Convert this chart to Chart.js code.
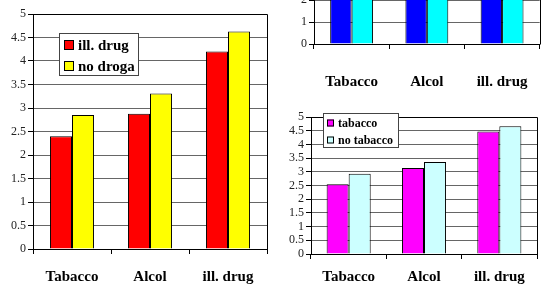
<!DOCTYPE html>
<html>
<head>
<meta charset="utf-8">
<script src="https://cdn.jsdelivr.net/npm/chart.js@4.4.1/dist/chart.umd.min.js"></script>
<style>
  html, body { margin: 0; padding: 0; background: #fff; overflow: hidden; }
  body { width: 552px; height: 287px; position: relative; }
  .box { position: absolute; }
</style>
</head>
<body>
<div class="box" style="left:0;top:0;width:280px;height:287px"><canvas id="graf1"></canvas></div>
<div class="box" style="left:280px;top:-80px;width:272px;height:180px"><canvas id="graf2"></canvas></div>
<div class="box" style="left:280px;top:100px;width:272px;height:187px"><canvas id="graf3"></canvas></div>
<script>
const categorias = ['Tabacco', 'Alcol', 'ill. drug']

// grafico grande (sinistra)
const illDrug = [2.40, 2.88, 4.20]
const noDroga = [2.85, 3.31, 4.63]

// grafico in alto a destra (si vede solo la parte bassa)
const alcolSi = [3.9, 4.2, 4.6]
const alcolNo = [4.1, 4.4, 4.8]

// grafico in basso a destra
const tabaccoSi = [2.55, 3.14, 4.47]
const tabaccoNo = [2.93, 3.36, 4.66]

const serif = "'Liberation Serif', 'Times New Roman', serif"

// cornice dell'area del grafico
const frame = {
  id: 'frame',
  afterDatasetsDraw(chart) {
    const a = chart.chartArea
    const c = chart.ctx
    c.save()
    c.strokeStyle = '#000'
    c.lineWidth = 1
    c.beginPath()
    c.moveTo(Math.round(a.left) + 0.5, Math.round(a.top) + 0.5)
    c.lineTo(Math.round(a.right) + 0.5, Math.round(a.top) + 0.5)
    c.lineTo(Math.round(a.right) + 0.5, Math.round(a.bottom) + 0.5)
    c.stroke()
    c.restore()
  }
}

// legenda disegnata dentro il grafico
const boxLegend = {
  id: 'boxLegend',
  afterDraw(chart, args, opts) {
    if (!opts.show) return
    const c = chart.ctx
    c.save()
    c.fillStyle = '#fff'
    c.fillRect(opts.x, opts.y, opts.w, opts.h)
    c.strokeStyle = '#444'
    c.lineWidth = 1
    c.strokeRect(opts.x + 0.5, opts.y + 0.5, opts.w, opts.h)
    c.font = 'bold ' + opts.size + 'px ' + serif
    c.textBaseline = 'middle'
    chart.data.datasets.forEach((ds, i) => {
      const cy = opts.y + opts.first + i * opts.gap
      c.fillStyle = ds.backgroundColor
      c.fillRect(opts.x + opts.sx, cy - opts.sq / 2, opts.sq, opts.sq)
      c.strokeStyle = '#000'
      c.strokeRect(opts.x + opts.sx + 0.5, cy - opts.sq / 2 + 0.5, opts.sq - 1, opts.sq - 1)
      c.fillStyle = '#000'
      c.fillText(ds.label, opts.x + opts.sx + opts.sq + 4, cy + 1)
    })
    c.restore()
  }
}

function makeChart(id, sets, o) {
  return new Chart(document.getElementById(id), {
    type: 'bar',
    data: {
      labels: categorias,
      datasets: sets.map(s => ({
        label: s.label,
        data: s.data,
        backgroundColor: s.color,
        borderColor: '#000',
        borderWidth: 1,
        borderSkipped: 'bottom',
        categoryPercentage: o.catPct,
        barPercentage: 1
      }))
    },
    options: {
      responsive: true,
      maintainAspectRatio: false,
      animation: false,
      layout: { padding: { left: 0, right: o.padRight, top: o.padTop, bottom: 0 } },
      scales: {
        x: {
          afterFit: s => { s.height = o.xHeight },
          grid: { offset: true, drawOnChartArea: false, tickLength: 5, color: '#000' },
          border: { color: '#000' },
          ticks: { color: '#000', padding: o.xPad, font: { family: serif, size: 15, weight: 'bold' } }
        },
        y: {
          min: 0,
          max: 5,
          afterFit: s => { s.width = o.yWidth },
          grid: { color: '#666', tickLength: 5, tickColor: '#000' },
          border: { color: '#000' },
          ticks: {
            stepSize: o.step,
            autoSkip: false,
            color: '#222',
            padding: 2,
            font: { family: serif, size: 12 },
            callback: v => String(Math.round(v * 10) / 10)
          }
        }
      },
      plugins: {
        legend: { display: false },
        tooltip: { enabled: false },
        boxLegend: o.legend
      }
    },
    plugins: [frame, boxLegend]
  })
}

makeChart('graf1', [
  { label: 'ill. drug', data: illDrug, color: '#ff0000' },
  { label: 'no droga', data: noDroga, color: '#ffff00' }
], {
  catPct: 0.565, padRight: 13, padTop: 14, xHeight: 38, yWidth: 33, xPad: 14, step: 0.5,
  legend: { show: true, x: 59, y: 33, w: 79, h: 42, sx: 5, sq: 10, first: 12, gap: 21, size: 15 }
})

makeChart('graf2', [
  { label: 'alcol', data: alcolSi, color: '#0000ff' },
  { label: 'no alcol', data: alcolNo, color: '#00ffff' }
], {
  catPct: 0.57, padRight: 3, padTop: 14, xHeight: 56, yWidth: 34, xPad: 24, step: 1,
  legend: { show: false }
})

makeChart('graf3', [
  { label: 'tabacco', data: tabaccoSi, color: '#ff00ff' },
  { label: 'no tabacco', data: tabaccoNo, color: '#ccffff' }
], {
  catPct: 0.585, padRight: 15, padTop: 17, xHeight: 33, yWidth: 31, xPad: 9, step: 0.5,
  legend: { show: true, x: 43, y: 13, w: 75, h: 34, sx: 4, sq: 7, first: 10, gap: 17, size: 12 }
})
</script>
</body>
</html>
